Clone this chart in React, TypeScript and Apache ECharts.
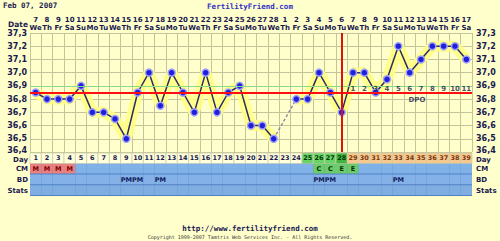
import React, { useEffect, useRef } from "react";
import * as echarts from "echarts";

// ---- data ----
const cycleDays = [1,2,3,4,5,6,7,8,9,10,11,12,13,14,15,16,17,18,19,20,21,22,23,24,25,26,27,28,29,30,31,32,33,34,35,36,37,38,39];
const dates = [7,8,9,10,11,12,13,14,15,16,17,18,19,20,21,22,23,24,25,26,27,28,1,2,3,4,5,6,7,8,9,10,11,12,13,14,15,16,17];
const weekdays = ["We","Th","Fr","Sa","Su","Mo","Tu","We","Th","Fr","Sa","Su","Mo","Tu","We","Th","Fr","Sa","Su","Mo","Tu","We","Th","Fr","Sa","Su","Mo","Tu","We","Th","Fr","Sa","Su","Mo","Tu","We","Th","Fr","Sa"];
const temps: (number | null)[] = [36.85,36.8,36.8,36.8,36.9,36.7,36.7,36.65,36.5,36.85,37.0,36.75,37.0,36.85,36.7,37.0,36.7,36.85,36.9,36.6,36.6,36.5,null,36.8,36.8,37.0,36.85,36.7,37.0,37.0,36.85,36.95,37.2,37.0,37.1,37.2,37.2,37.2,37.1];
const bridgeDays = [22, 24];
const coverline = 36.85;
const greenLine = 36.9;
const ovulationDay = 28;
const dpoLabels = ["","","","","","","","","","","","","","","","","","","","","","","","","","","","","1","2","3","4","5","6","7","8","9","10","11"];
const dpoTitleDay = 35;
const yTicks = [36.4, 37.3];
// day row phase: n = normal, f = fertile, o = ovulation, l = luteal
const dayPhase = ["n","n","n","n","n","n","n","n","n","n","n","n","n","n","n","n","n","n","n","n","n","n","n","n","f","f","f","o","l","l","l","l","l","l","l","l","l","l","l"];
const cmMarks = ["M","M","M","M","","","","","","","","","","","","","","","","","","","","","","C","C","E","E","","","","","","","","","",""];
const bdMarks = ["","","","","","","","","PM","PM","","PM","","","","","","","","","","","","","","PM","PM","","","","","","PM","","","","","",""];
const statsMarks = ["","","","","","","","","","","","","","","","","","","","","","","","","","","","","","","","","","","","","","",""];
const rowNames = ["Day", "CM", "BD", "Stats"];

// ---- styles ----
const BG = "#ffffcc";
const NAVY = "#1a1a50";
const FONT = '"DejaVu Sans"';

export default function App() {
  const ref = useRef<HTMLDivElement>(null);
  useEffect(() => {
    document.body.style.margin = "0";
    document.body.style.background = BG;
    const chart = echarts.init(ref.current!, null, { renderer: "svg" });

    type Cell = { fill: string; text: string; color: string; row: number; col: number };
    const cells: Cell[] = [];
    cycleDays.forEach((d, i) => {
      const ph = dayPhase[i];
      const fill = ph === "f" ? "#66d466" : ph === "o" ? "#3fb43f" : ph === "l" ? "#f6c88e" : "#ffffdc";
      const color = ph === "f" || ph === "o" ? "#0a3a0a" : ph === "l" ? "#7a3a10" : NAVY;
      cells.push({ row: 0, col: i, fill, text: String(d), color });
    });
    cmMarks.forEach((m, i) => {
      const fill = m === "M" ? "#e88080" : m === "C" || m === "E" ? "#6ccc6c" : "#80b2e8";
      const color = m === "M" ? "#800000" : "#0a2a0a";
      cells.push({ row: 1, col: i, fill, text: m, color });
    });
    bdMarks.forEach((m, i) => {
      cells.push({ row: 2, col: i, fill: "#84b2e8", text: m, color: "#10205a" });
    });
    statsMarks.forEach((m, i) => {
      cells.push({ row: 3, col: i, fill: "#80aee2", text: m, color: "#10205a" });
    });

    const labelStyle = { fontFamily: FONT, fontWeight: "bold" as const, fontSize: 8, color: NAVY };
    const yFmt = (v: number) => {
      const s = v.toFixed(1).replace(".", ",");
      return Math.abs(v - yTicks[0]) < 1e-6 ? `{lo|${s}}` : s;
    };
    const yRich = { lo: { fontFamily: FONT, fontWeight: "bold", fontSize: 8, color: NAVY, padding: [0, 0, 3, 0] } };
    const rowFmt = (v: string) => (v === rowNames[0] ? `{dn|${v}}` : v);
    const rowRich = { dn: { fontFamily: FONT, fontWeight: "bold", fontSize: 7, color: NAVY, padding: [3, 0, 0, 0] } };
    const dayNames = cycleDays.map(String);

    const option: any = {
      animation: false,
      backgroundColor: BG,
      grid: [
        { left: 30, right: 28, top: 33, height: 119, show: true, backgroundColor: BG, borderWidth: 0, containLabel: false, outerBoundsMode: "none" },
        { left: 30, right: 28, top: 153, height: 43, show: true, backgroundColor: "#4f80c4", borderWidth: 0, containLabel: false, outerBoundsMode: "none" },
      ],
      xAxis: [
        {
          type: "category", gridIndex: 0, data: dayNames, boundaryGap: true,
          axisLine: { show: false }, axisTick: { show: false }, axisLabel: { show: false },
          splitLine: { show: true, interval: 0, lineStyle: { color: "#c4c49a", width: 1 } },
        },
        {
          type: "category", gridIndex: 0, position: "top", data: dates.map(String), boundaryGap: true,
          axisLine: { show: false }, axisTick: { show: false }, splitLine: { show: false },
          axisLabel: {
            interval: 0, margin: 1,
            formatter: (v: string, i: number) => `{d|${v}}\n{w|${weekdays[i]}}`,
            rich: {
              d: { fontFamily: FONT, fontWeight: "bold", fontSize: 7, color: NAVY, lineHeight: 8 },
              w: { fontFamily: FONT, fontWeight: "bold", fontSize: 7, color: NAVY, lineHeight: 8 },
            },
          },
        },
        {
          type: "category", gridIndex: 1, data: dayNames, boundaryGap: true,
          axisLine: { show: false }, axisTick: { show: false }, axisLabel: { show: false }, splitLine: { show: false },
        },
      ],
      yAxis: [
        {
          type: "value", gridIndex: 0, min: yTicks[0], max: yTicks[1], interval: 0.1,
          axisLine: { show: false }, axisTick: { show: false },
          axisLabel: { ...labelStyle, margin: 3, formatter: yFmt, rich: yRich },
          splitLine: { show: true, lineStyle: { color: "#c4c49a", width: 1 } },
        },
        {
          type: "value", gridIndex: 0, position: "right", min: yTicks[0], max: yTicks[1], interval: 0.1,
          axisLine: { show: false }, axisTick: { show: false },
          axisLabel: { ...labelStyle, margin: 4, formatter: yFmt, rich: yRich },
          splitLine: { show: false },
        },
        {
          type: "category", gridIndex: 1, data: rowNames, inverse: true,
          axisLine: { show: false }, axisTick: { show: false }, splitLine: { show: false },
          axisLabel: { ...labelStyle, fontSize: 7, margin: 2, formatter: rowFmt, rich: rowRich },
        },
        {
          type: "category", gridIndex: 1, data: rowNames, inverse: true, position: "right",
          axisLine: { show: false }, axisTick: { show: false }, splitLine: { show: false },
          axisLabel: { ...labelStyle, fontSize: 7, margin: 4, align: "left", formatter: rowFmt, rich: rowRich },
        },
      ],
      series: [
        {
          type: "line", xAxisIndex: 0, yAxisIndex: 0, data: temps, symbol: "none", connectNulls: false,
          lineStyle: { color: "rgba(255,255,130,0.9)", width: 11 }, z: 1, silent: true,
          markLine: {
            silent: true, symbol: "none", label: { show: false },
            data: [
              { yAxis: greenLine, lineStyle: { color: "#8ad88a", width: 1, type: "solid" } },
              { yAxis: coverline, lineStyle: { color: "#ff1010", width: 2, type: "solid" } },
              { xAxis: String(ovulationDay), lineStyle: { color: "#e01010", width: 2, type: "solid" } },
            ],
          },
        },
        {
          type: "line", xAxisIndex: 0, yAxisIndex: 0, z: 3,
          data: temps.map((t, i) => (bridgeDays.includes(cycleDays[i]) ? t : null)),
          connectNulls: true, symbol: "none",
          lineStyle: { color: "#9090a0", width: 1.5, type: [3, 2] },
        },
        {
          type: "line", xAxisIndex: 0, yAxisIndex: 0, z: 4, data: temps, connectNulls: false,
          symbol: "circle", symbolSize: 7,
          lineStyle: { color: "#2a2a70", width: 1.5 },
          itemStyle: { color: "#2020d8", borderColor: "#a0a0ff", borderWidth: 1.5 },
        },
        {
          type: "scatter", xAxisIndex: 0, yAxisIndex: 0, z: 5, symbolSize: 0,
          data: dpoLabels.map((l, i) => (l ? [i, 36.878] : null)).filter((d) => d),
          label: {
            show: true, position: "inside", fontFamily: FONT, fontWeight: "bold", fontSize: 7, color: NAVY,
            formatter: (p: any) => dpoLabels[p.value[0]],
          },
        },
        {
          type: "scatter", xAxisIndex: 0, yAxisIndex: 0, z: 5, symbolSize: 0,
          data: [[dpoTitleDay - 1, 36.79]],
          label: { show: true, position: "inside", offset: [-4, 0], fontFamily: FONT, fontWeight: "bold", fontSize: 7, color: NAVY, formatter: "DPO" },
        },
        {
          type: "custom", xAxisIndex: 2, yAxisIndex: 2, z: 2,
          data: cells.map((c) => [c.col, c.row]),
          encode: { x: 0, y: 1 },
          renderItem: (params: any, api: any) => {
            const cell = cells[params.dataIndex];
            const c = api.coord([api.value(0), api.value(1)]);
            const s = api.size([1, 1]);
            const w = s[0], h = s[1];
            const x0 = c[0] - w / 2, y0 = c[1] - h / 2;
            return {
              type: "group",
              children: [
                {
                  type: "rect",
                  shape: { x: x0, y: y0, width: w, height: cell.row === 0 ? h : h - 1 },
                  style: { fill: cell.fill, stroke: cell.row === 0 ? "#cfcfa8" : null, lineWidth: cell.row === 0 ? 0.8 : 0 },
                },
                {
                  type: "text",
                  style: {
                    text: cell.text, x: c[0], y: c[1], align: "center", verticalAlign: "middle",
                    fill: cell.color, font: `bold 6.5px ${FONT}`,
                  },
                },
              ],
            };
          },
        },
      ],
      graphic: [
        { type: "text", left: 3, top: 1, style: { text: "Feb 07, 2007", fill: NAVY, font: 'bold 7.5px "DejaVu Sans Mono"' } },
        { type: "text", x: 250, y: 6, style: { text: "FertilityFriend.com", fill: "#3030c8", font: 'bold 7.5px "DejaVu Sans Mono"', align: "center", verticalAlign: "middle" } },
        { type: "text", x: 28, y: 24, style: { text: "Date", fill: NAVY, font: `bold 7.5px ${FONT}`, align: "right", verticalAlign: "middle" } },
        { type: "text", x: 250, y: 228, style: { text: "http://www.fertilityfriend.com", fill: NAVY, font: 'bold 7.5px "DejaVu Sans Mono"', align: "center", verticalAlign: "middle" } },
        { type: "text", x: 250, y: 237, style: { text: "Copyright 1999-2007 Tamtris Web Services Inc. - All Rights Reserved.", fill: "#333333", font: '5px "DejaVu Sans Mono"', align: "center", verticalAlign: "middle" } },
      ],
    };
    chart.setOption(option);
    return () => chart.dispose();
  }, []);
  return <div ref={ref} style={{ width: 500, height: 241, background: BG }} />;
}
